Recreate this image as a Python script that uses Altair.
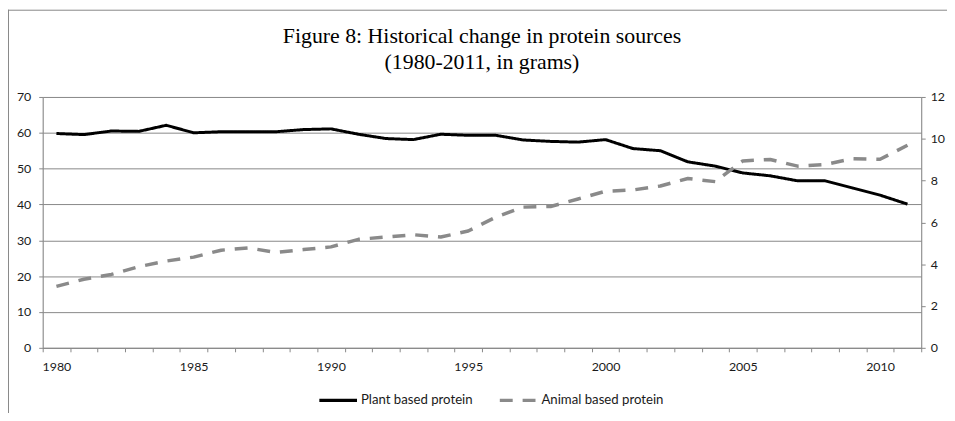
import altair as alt
import pandas as pd

years = list(range(1980, 2012))
plant = [59.8, 59.5, 60.5, 60.4, 62.1, 60.0, 60.3, 60.3, 60.3, 60.9,
         61.1, 59.6, 58.4, 58.1, 59.6, 59.3, 59.3, 58.0, 57.6, 57.4,
         58.1, 55.6, 55.0, 51.9, 50.7, 48.8, 48.0, 46.6, 46.6, 44.6,
         42.6, 40.1]
animal = [2.94, 3.28, 3.51, 3.88, 4.15, 4.34, 4.67, 4.78, 4.56, 4.70,
          4.83, 5.19, 5.30, 5.41, 5.30, 5.59, 6.25, 6.73, 6.76, 7.12,
          7.49, 7.55, 7.74, 8.10, 7.95, 8.94, 9.01, 8.69, 8.77, 9.05,
          9.02, 9.69]
series_names = ["Plant based protein", "Animal based protein"]
left_ticks = [0, 10, 20, 30, 40, 50, 60, 70]
right_ticks = [0, 2, 4, 6, 8, 10, 12]
title_lines = ["Figure 8: Historical change in protein sources", "(1980-2011, in grams)"]

df = pd.DataFrame({
    "year": years * 2,
    "series": [series_names[0]] * len(years) + [series_names[1]] * len(years),
    "value": plant + animal,
})

GRAY = "#888888"
LABEL_FONT = "Lato"
LABEL_COLOR = "#1a1a1a"

x_enc = alt.X(
    "year:O",
    bandPosition=0.5,
    scale=alt.Scale(type="band", paddingInner=0, paddingOuter=0),
    axis=alt.Axis(
        title=None, tickBand="extent", labelAngle=0,
        labelExpr="datum.value % 5 == 0 ? datum.label : ''",
        domainColor=GRAY, tickColor=GRAY, tickSize=4, labelPadding=9,
        labelFont=LABEL_FONT, labelFontSize=12.5, labelColor=LABEL_COLOR, grid=False,
    ),
)

color_scale = alt.Scale(domain=series_names, range=["#000000", "#8a8a8a"])
dash_scale = alt.Scale(domain=series_names, range=[[1, 0], [13, 10]])
legend = alt.Legend(
    title=None, orient="none", legendX=277, legendY=285, direction="horizontal",
    symbolType="stroke", symbolSize=1444, symbolStrokeWidth=3.5,
    labelFont=LABEL_FONT, labelFontSize=13.3, labelColor=LABEL_COLOR,
    labelOffset=2, columnPadding=20, padding=0,
)

base = alt.Chart(df)

plant_line = base.transform_filter(
    alt.datum.series == series_names[0]
).mark_line(strokeWidth=3, strokeJoin="round").encode(
    x=x_enc,
    y=alt.Y("value:Q", scale=alt.Scale(domain=[0, 70]),
            axis=alt.Axis(title=None, orient="left", values=left_ticks,
                          grid=True, gridColor=GRAY, gridWidth=1,
                          domainColor=GRAY, tickColor=GRAY, tickSize=4,
                          labelPadding=8, labelFont=LABEL_FONT, labelFontSize=12.5,
                          labelColor=LABEL_COLOR)),
    color=alt.Color("series:N", scale=color_scale, legend=legend),
    strokeDash=alt.StrokeDash("series:N", scale=dash_scale, legend=legend),
)

animal_line = base.transform_filter(
    alt.datum.series == series_names[1]
).mark_line(strokeWidth=3.5, strokeJoin="round").encode(
    x=x_enc,
    y=alt.Y("value:Q", scale=alt.Scale(domain=[0, 12]),
            axis=alt.Axis(title=None, orient="right", values=right_ticks,
                          grid=False, domainColor=GRAY, tickColor=GRAY, tickSize=4,
                          labelPadding=5, labelFont=LABEL_FONT, labelFontSize=12.5,
                          labelColor=LABEL_COLOR)),
    color=alt.Color("series:N", scale=color_scale, legend=legend),
    strokeDash=alt.StrokeDash("series:N", scale=dash_scale, legend=legend),
)

frame_df = pd.DataFrame({"f": [0]})
frame_top = alt.Chart(frame_df).mark_rule(color=GRAY, strokeWidth=1).encode(
    x=alt.value(-35), x2=alt.value(912), y=alt.value(-87.5)
)
frame_left = alt.Chart(frame_df).mark_rule(color=GRAY, strokeWidth=1).encode(
    x=alt.value(-34.5), y=alt.value(-88), y2=alt.value(330)
)

chart = alt.layer(plant_line, animal_line, frame_top, frame_left).resolve_scale(
    y="independent"
).properties(
    width=886,
    height=253,
    padding={"left": 35, "top": 88, "right": 26, "bottom": 64},
    autosize=alt.AutoSizeParams(type="none"),
    title=alt.TitleParams(
        title_lines, font="Liberation Serif", fontSize=22, fontWeight="normal",
        color="#000000", lineHeight=26, anchor="middle", offset=0, dy=65,
    ),
).configure_view(stroke=None).configure(background="white")

chart.save("out.html", embed_options={"renderer": "svg", "actions": False})
